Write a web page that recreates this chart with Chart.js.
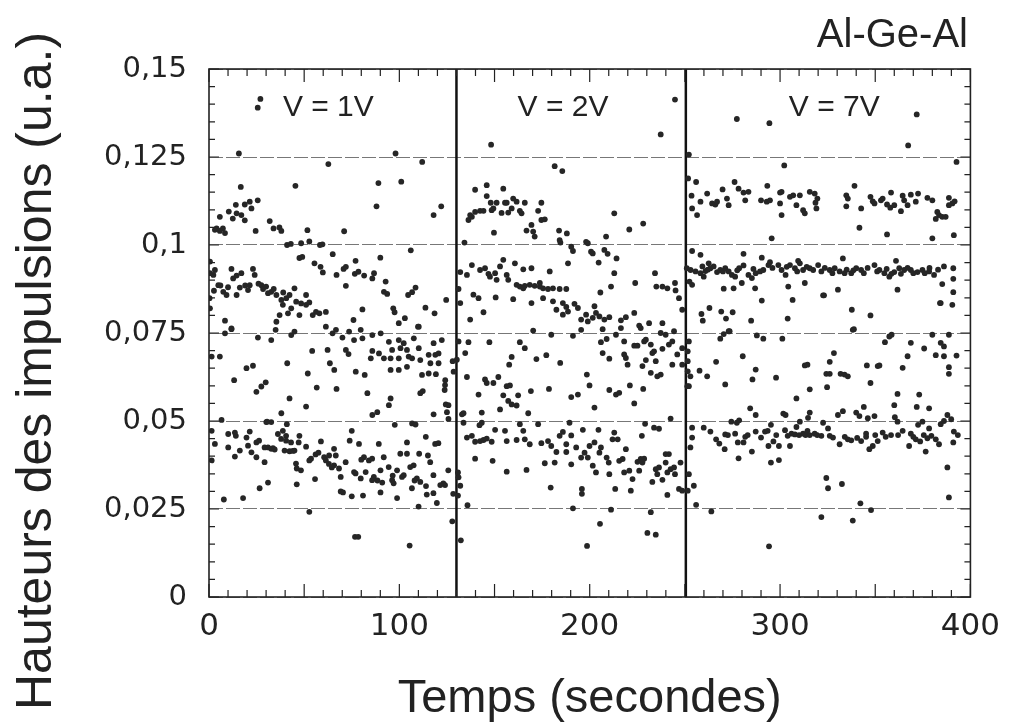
<!DOCTYPE html>
<html>
<head>
<meta charset="utf-8">
<script src="https://cdn.jsdelivr.net/npm/chart.js@4"></script>
<style>
  body { margin: 0; background: #fff; }
</style>
</head>
<body>
<canvas id="pulseChart" width="1011" height="727"></canvas>
<script>
// tick labels
const xTicks = [0, 100, 200, 300, 400];
const yTicks = [0, 0.025, 0.05, 0.075, 0.1, 0.125, 0.15];

// voltage changes (s)
const dividers = [130, 250.5];
const voltages = ["V = 1V", "V = 2V", "V = 7V"];

// [temps (s), hauteur (u.a.)]
const v1Points = [
  [27, 0.1415], [25.6, 0.139], [15.7, 0.126], [98, 0.126], [62.7, 0.123], [112, 0.1236], [16.7, 0.1165], [45.4, 0.1168],
  [89, 0.1176], [101, 0.118], [88, 0.111], [122, 0.111], [118, 0.1085],
  [5.7, 0.108], [10.4, 0.1095], [12.5, 0.1075], [14.5, 0.109], [17, 0.1085], [18.8, 0.107], [14.1, 0.1114], [18.8, 0.1115],
  [21.4, 0.1123], [22.3, 0.1104], [25.6, 0.1127], [4, 0.1047], [7.3, 0.1047], [8.4, 0.1034], [5.7, 0.104], [3.1, 0.1043],
  [24.5, 0.104], [31.9, 0.1068], [33.9, 0.1047], [37, 0.105], [38, 0.104], [51.7, 0.1042], [71, 0.1039],
  [41, 0.1], [43, 0.1003], [48.4, 0.1005], [52.7, 0.101], [58.3, 0.1], [59.6, 0.1002],
  [65, 0.0974], [90, 0.0964], [106, 0.0985], [47.5, 0.0963], [49, 0.0966], [55.4, 0.0948], [58.6, 0.0938], [59.8, 0.0922],
  [67, 0.0915], [70.7, 0.0932], [71.9, 0.0938], [77, 0.0955], [76.6, 0.0918], [78.5, 0.0924], [81.5, 0.0913], [85.8, 0.0905],
  [86.7, 0.092], [71.9, 0.0884], [92.8, 0.0896], [91.9, 0.0867], [93.6, 0.0861], [104.6, 0.0858], [106.7, 0.0866], [108.5, 0.0879],
  [113.7, 0.0822], [118.5, 0.0806], [124.6, 0.0844], [96.8, 0.082], [97.5, 0.0809], [80.6, 0.0817], [75.9, 0.0787], [99.7, 0.0778],
  [102.9, 0.0792], [109.8, 0.0768],
  [0.5, 0.0953], [3.1, 0.0929], [2.3, 0.0915], [0.5, 0.092], [4.9, 0.0886], [7.5, 0.0867], [9.2, 0.0858], [11.8, 0.0932],
  [12.7, 0.0905], [14.5, 0.0913], [17, 0.092], [16.2, 0.0879], [21.4, 0.0886], [20.5, 0.0872], [23.1, 0.0932], [24, 0.0915],
  [27.5, 0.0886], [28.4, 0.0875], [31, 0.0863], [32.7, 0.0867], [35.4, 0.0858], [38, 0.0844], [38.8, 0.083], [40.6, 0.0849],
  [42.3, 0.0858], [44.9, 0.0877], [43.2, 0.082], [45.8, 0.0839], [48.4, 0.0834], [51, 0.083], [52.7, 0.0837], [51, 0.0858],
  [56.2, 0.081], [54.5, 0.0801], [58, 0.0806], [61.4, 0.081], [37.1, 0.0801], [41.5, 0.0806], [47.5, 0.0801], [35.4, 0.0782],
  [8.4, 0.0785], [11.8, 0.0763], [0.5, 0.082], [0.3, 0.0849], [2.6, 0.087], [14.5, 0.0858],
  [6, 0.0885], [10, 0.088], [19, 0.0885], [26, 0.089], [30, 0.0882], [34, 0.0875], [39, 0.0865],
  [8.4, 0.0749], [11.8, 0.0761], [25.7, 0.0737], [32.7, 0.073], [35, 0.0759], [43.2, 0.0744], [44.9, 0.0754], [61.4, 0.0768],
  [64.9, 0.0749], [66.7, 0.0759], [70.1, 0.0737], [73.6, 0.0754], [76.2, 0.073], [80.6, 0.0735], [79.7, 0.0759], [85.8, 0.0744],
  [90.2, 0.0749], [99.7, 0.073], [107.6, 0.0735], [110.2, 0.0768], [122.3, 0.073], [118, 0.0721],
  [1.4, 0.0683], [5.7, 0.0683], [19.7, 0.065], [23.1, 0.0657], [13.2, 0.0616], [24.9, 0.0583], [27.5, 0.0598], [29.8, 0.061],
  [41.1, 0.0664], [51.9, 0.0635], [54.2, 0.0699], [42.3, 0.0564], [51, 0.0541], [38, 0.0522], [56.6, 0.0595], [62.3, 0.0702],
  [63.5, 0.0664], [65.8, 0.0645], [67, 0.0591], [71.9, 0.0702], [73.3, 0.069], [77.1, 0.064], [81.8, 0.0631], [83.2, 0.0579],
  [85, 0.0678], [85.8, 0.0699],
  [89.3, 0.0692], [91.9, 0.0678], [95.4, 0.0678], [96.2, 0.0702], [100.6, 0.0707], [99.7, 0.0678], [104, 0.0702], [104.9, 0.0683],
  [110.2, 0.0707], [106.7, 0.0678], [111, 0.0673], [115.4, 0.0688], [118.9, 0.0688], [120.6, 0.0692], [116.3, 0.0664], [120.6, 0.0664],
  [95.4, 0.0645], [99.7, 0.0645], [104, 0.0654], [111.9, 0.0631], [115.4, 0.0635], [119.2, 0.0633], [124.1, 0.0616], [102.3, 0.0721],
  [94.5, 0.0725], [128, 0.067], [128.5, 0.064],
  [95.4, 0.0564], [94.5, 0.0545], [85.8, 0.0517], [88.4, 0.0525], [97.6, 0.0489], [111, 0.0579], [112.3, 0.0585], [118, 0.0519],
  [125.8, 0.0506], [123.8, 0.0588], [124, 0.0602], [124.4, 0.0547], [125.8, 0.0545], [125, 0.0525], [6.6, 0.0503], [30.1, 0.0497],
  [32.7, 0.0497], [106.7, 0.0493], [108.5, 0.049],
  [1.4, 0.0472], [3.1, 0.0435], [1.4, 0.0388], [10.1, 0.0463], [10.1, 0.0425], [13.6, 0.0467], [14.1, 0.0458], [13.6, 0.0399],
  [16.2, 0.0416], [19.7, 0.0453], [21.4, 0.047], [22.3, 0.0411], [20.5, 0.043], [24.9, 0.0439], [24.9, 0.0397], [26.3, 0.0444],
  [29.2, 0.0425], [31, 0.0425], [33.6, 0.0423], [32.7, 0.0421], [29.2, 0.0383], [36.2, 0.0463], [37.9, 0.0449], [40.5, 0.0458],
  [40.9, 0.0491], [38.8, 0.0472], [39.7, 0.0416], [42.3, 0.0414], [44.9, 0.0416], [40.5, 0.0444], [43.1, 0.0439], [47.5, 0.0458],
  [47.1, 0.0439], [45.7, 0.0379], [46.1, 0.0365], [48.3, 0.036], [51, 0.0427], [52.7, 0.0388], [53.6, 0.0393], [58.8, 0.0442],
  [60.5, 0.0397], [61.4, 0.0388], [63.1, 0.0402], [65.7, 0.0421], [66.6, 0.0402], [65.7, 0.0374], [68.3, 0.0365], [69.2, 0.0341],
  [71.8, 0.0383], [73.9, 0.0444], [75, 0.0472], [78.8, 0.0435], [76.2, 0.0355], [77, 0.0351], [79.7, 0.0337], [81.4, 0.0397],
  [82.3, 0.0355], [84, 0.0388], [85.7, 0.0393], [86.6, 0.0341], [85.7, 0.0332], [89.2, 0.0435], [90.1, 0.036], [91.8, 0.0397],
  [94.4, 0.0369], [96.2, 0.0332], [97, 0.0323], [98.8, 0.036], [100.5, 0.0407], [101.4, 0.0341], [102.3, 0.0346], [104, 0.0439],
  [104, 0.0407], [105.7, 0.0369], [107.5, 0.0374], [106.6, 0.0309], [109.2, 0.0337], [111, 0.0327], [110.4, 0.0407], [113.9, 0.0455],
  [115, 0.0402], [116.2, 0.0383], [117.9, 0.0346], [118.8, 0.0435], [120.5, 0.0437], [123.1, 0.0323], [124, 0.0318], [125.7, 0.036],
  [128.3, 0.0293], [117.9, 0.0295], [114.4, 0.0291], [119.7, 0.0267], [110.1, 0.0257], [90.1, 0.0297], [98.8, 0.0281], [80.9, 0.0288],
  [75, 0.0286], [70.4, 0.0297], [69.2, 0.03], [31, 0.0325], [26.6, 0.0309], [17.9, 0.0281], [7.8, 0.0277], [46.1, 0.032],
  [55.7, 0.0335], [52.7, 0.0242], [76.7, 0.0171], [78.4, 0.0171], [105.4, 0.0146], [127.8, 0.0215],
  [34.5, 0.0419], [30.5, 0.0498], [44, 0.0415], [56, 0.0405], [57.5, 0.041], [63, 0.0378], [64.5, 0.0368], [80, 0.039],
  [88.5, 0.0331], [91, 0.0325], [96.5, 0.0345], [108, 0.0331], [114, 0.0315], [121.5, 0.0318]
];

const v2Points = [
  [244.8, 0.1413], [237.3, 0.1314], [148.2, 0.1285], [181.6, 0.1224], [185.6, 0.121], [139.8, 0.1157], [145.9, 0.117], [154.6, 0.116],
  [145.9, 0.1139], [148, 0.112], [151.1, 0.112], [155.5, 0.112], [156.4, 0.112], [159.8, 0.1132], [161.6, 0.1123], [165.9, 0.112],
  [174.6, 0.112], [148.5, 0.1099], [149.4, 0.1104], [153.7, 0.1091], [157.2, 0.1092], [159, 0.1104], [163.3, 0.1097], [164.2, 0.109],
  [136.3, 0.1071], [138.1, 0.108], [139.8, 0.1094], [142.4, 0.1097], [144.2, 0.1097], [137.2, 0.1085], [172.9, 0.1097], [174.6, 0.1071],
  [176.4, 0.1073], [169.4, 0.1057], [149.7, 0.1035], [166.8, 0.1041], [170.3, 0.1038], [171.1, 0.1024], [183.9, 0.1041], [188, 0.1033],
  [184.2, 0.1014], [184.6, 0.1007], [212.9, 0.109], [228.1, 0.1061], [220.8, 0.1044], [208.6, 0.1024], [198.1, 0.1009], [199, 0.1005],
  [134.2, 0.1007], [190.3, 0.0995], [191.2, 0.0983], [200.7, 0.0981], [201.6, 0.0976], [207.7, 0.0986], [209.4, 0.0975], [188.6, 0.0948],
  [204.7, 0.095], [214.1, 0.0962],
  [132, 0.0923], [135.5, 0.0915], [138.1, 0.0943], [142.4, 0.0929], [145, 0.0934], [146.8, 0.0918], [147.6, 0.091], [150.3, 0.092],
  [151.1, 0.0901], [152.9, 0.0939], [154.6, 0.0958], [156.4, 0.0915], [157.2, 0.0901], [160.7, 0.0948], [165.1, 0.0931], [169.4, 0.0934],
  [179, 0.0925], [161.6, 0.0887], [163.3, 0.0882], [165.9, 0.0884], [168.5, 0.0887], [171.1, 0.0884], [173.8, 0.0882], [175.5, 0.0877],
  [178.1, 0.0875], [180.7, 0.0877], [184.2, 0.0875], [187.7, 0.0875], [173.8, 0.0892], [165.1, 0.0877], [131.1, 0.0875],
  [132, 0.0835], [138.9, 0.0859], [141.6, 0.0849], [144.2, 0.0809], [137.2, 0.0788], [150.6, 0.0851], [159.8, 0.0846], [169.4, 0.0835],
  [175.5, 0.0849], [180.7, 0.084], [182.5, 0.0816], [185.9, 0.0835], [187.7, 0.0824], [188.6, 0.0811], [192, 0.0833], [193.8, 0.0821],
  [185.9, 0.0802], [195.5, 0.0788], [198.1, 0.0802], [199, 0.0783], [202.5, 0.0826], [203.3, 0.0807], [205.1, 0.0797], [207.7, 0.0788],
  [201.6, 0.0793], [210.3, 0.0795], [216.4, 0.0786], [219, 0.0795], [223.4, 0.0807], [226, 0.0771], [231.2, 0.0778], [238.2, 0.0778],
  [223.9, 0.0892], [234.3, 0.092], [235, 0.0882], [238.2, 0.0882], [240.8, 0.0877], [244.8, 0.0892], [245.1, 0.0871], [246.9, 0.0849],
  [248.6, 0.0816], [211.2, 0.0882], [205.6, 0.0865], [212.9, 0.092],
  [131.1, 0.0726], [136.3, 0.0724], [147.3, 0.0724], [163.3, 0.0724], [165.9, 0.0707], [134.6, 0.0693], [130.2, 0.0674], [159, 0.0682],
  [157.7, 0.066], [172, 0.0676], [177.2, 0.0687], [184.5, 0.0665], [170.3, 0.0757], [179.8, 0.0745], [191.2, 0.0742], [195.5, 0.0759],
  [206.8, 0.0761], [205.9, 0.0724], [208.9, 0.0733], [213.8, 0.0745], [216.4, 0.0764], [218.1, 0.0726], [206.8, 0.0693], [210.3, 0.0677],
  [218.1, 0.0689], [219, 0.0679], [219.9, 0.066], [223.4, 0.0714], [225.1, 0.0714], [226.8, 0.0764], [228.6, 0.0726], [229.5, 0.0731],
  [232.1, 0.0717], [233.8, 0.0698], [238.2, 0.0705], [237.3, 0.075], [239.9, 0.0745], [241.6, 0.0717], [243.4, 0.0726], [244.3, 0.0755],
  [246, 0.0689], [248.6, 0.0707], [248.6, 0.066], [243.4, 0.066], [229.5, 0.0673], [234.7, 0.067], [227.7, 0.0656], [232.1, 0.0637],
  [235.5, 0.0627], [237.3, 0.0632], [232.9, 0.0693],
  [135.5, 0.0625], [145, 0.0618], [145.9, 0.0608], [149.4, 0.0608], [152, 0.0625], [156.4, 0.0599], [158.1, 0.0601], [154.6, 0.0573],
  [157.2, 0.0557], [159, 0.0547], [161.6, 0.0544], [162.4, 0.0573], [169.1, 0.0585], [167.7, 0.0522], [141.6, 0.0575], [143.3, 0.0524],
  [152.9, 0.0533], [178.6, 0.0591], [190.3, 0.0568], [193.8, 0.0575], [198.5, 0.0632], [199.9, 0.0601], [202.5, 0.0538], [210.3, 0.0588],
  [213.8, 0.0575], [215.5, 0.058], [221.1, 0.0601], [223.4, 0.055], [228.1, 0.0591],
  [132.9, 0.0519], [133.7, 0.0495], [143.3, 0.0495], [142.1, 0.0488], [163.3, 0.0491], [172.9, 0.0491], [189.4, 0.0495], [229.1, 0.0492],
  [233.8, 0.0481], [236.4, 0.0478], [242.5, 0.0507],
  [135.5, 0.0453], [138.1, 0.0458], [139.8, 0.0441], [142.4, 0.0443], [144.2, 0.0446], [145.9, 0.045], [148.5, 0.0441], [150.3, 0.0475],
  [155.5, 0.0472], [156.4, 0.0443], [161.6, 0.0446], [165.1, 0.0472], [165.9, 0.0448], [168.5, 0.0434], [174.6, 0.0437], [178.1, 0.0443],
  [179.8, 0.0429], [182.5, 0.0412], [184.2, 0.0458], [185.9, 0.0469], [187.7, 0.0434], [187.7, 0.0412], [190.3, 0.0459], [192.9, 0.0425],
  [196.4, 0.0475], [195.5, 0.0396], [197.3, 0.041], [199, 0.0396], [199.9, 0.0429], [202.5, 0.0439], [204.6, 0.0475], [205.1, 0.041],
  [205.9, 0.0425], [208.9, 0.0396], [210, 0.0382], [212, 0.0448], [212.9, 0.0467], [214.7, 0.0448], [219, 0.042], [215.5, 0.0387],
  [217.3, 0.0392], [218.1, 0.0354], [220.8, 0.0359], [226, 0.0359], [226.8, 0.0392], [227.7, 0.0382], [227.4, 0.0458], [228.6, 0.0393],
  [225.1, 0.0384], [222.5, 0.0335], [232.9, 0.0327], [234.7, 0.0363], [236.4, 0.0368], [238.2, 0.0333], [239.9, 0.0382], [235.5, 0.0349],
  [240.8, 0.0354], [241.6, 0.0406], [242.5, 0.0363], [244.3, 0.0368], [244.8, 0.0349], [239.9, 0.0406], [247.7, 0.0382], [246.9, 0.0307],
  [248.6, 0.0302], [240.8, 0.029], [232.1, 0.0241], [230.3, 0.0182], [234.7, 0.0177], [221.6, 0.0302], [213.4, 0.0307], [211.2, 0.0248],
  [205.4, 0.0208], [198.6, 0.0145], [195.9, 0.0307], [195.9, 0.0293], [191.2, 0.0252], [179.5, 0.0311], [166.8, 0.0361], [156.4, 0.0356],
  [149, 0.0387], [139.8, 0.0393], [135.8, 0.0261], [132.3, 0.0161], [176.4, 0.038], [181.6, 0.0382], [190.3, 0.0377], [201.6, 0.0373],
  [203.3, 0.0354], [210.3, 0.0349], [130.8, 0.0354], [131.1, 0.034], [132, 0.0316], [130.8, 0.0288], [133.7, 0.0522]
];

const v7Points = [
  [252.1, 0.1257], [277.3, 0.1358], [294.4, 0.1346], [371.8, 0.1371], [367.3, 0.1283], [302.2, 0.1226], [392.7, 0.1236], [251.7, 0.1189],
  [255.9, 0.1179], [253.5, 0.114], [258.2, 0.1123], [261.7, 0.1146], [253.8, 0.1104], [256.4, 0.1085], [264.3, 0.1118], [266, 0.1115],
  [266.9, 0.1123], [269.8, 0.1158], [272.1, 0.1132], [273, 0.1113], [276.1, 0.1179], [278.2, 0.116], [280.8, 0.1149], [281.7, 0.1127],
  [283.4, 0.1151], [290, 0.1127], [293, 0.1123], [294.7, 0.1127], [293.3, 0.1168], [300, 0.1149], [300.8, 0.1151], [300, 0.1118],
  [300.8, 0.1085], [305.2, 0.1137], [306.9, 0.1141], [308.6, 0.1113], [310.4, 0.1141], [312.1, 0.1099], [313, 0.109], [315.6, 0.1151],
  [318.2, 0.1146], [319.6, 0.1132], [318.6, 0.112], [319.1, 0.1104], [295.6, 0.1019],
  [334.8, 0.1141], [335.6, 0.1132], [339.1, 0.1168], [334.8, 0.111], [342.6, 0.1104], [341.7, 0.1049], [347.5, 0.1137], [348.7, 0.1124],
  [349.6, 0.1118], [353, 0.1127], [353.9, 0.1132], [356.2, 0.1115], [357.9, 0.1106], [358.3, 0.1149], [360, 0.1113], [363.5, 0.1096],
  [364.4, 0.114], [365.2, 0.1127], [367, 0.1113], [368.7, 0.1143], [372.5, 0.1146], [371.3, 0.1123], [377.4, 0.1134], [380, 0.1127],
  [382.6, 0.1094], [383.5, 0.1085], [381.8, 0.1074], [385.2, 0.108], [387, 0.108], [388.7, 0.1134], [390.5, 0.1118], [391.7, 0.1124],
  [388.7, 0.1113], [356.2, 0.103], [380, 0.1019], [391.3, 0.1028],
  [251, 0.0934], [253, 0.0929], [255.6, 0.0925], [258.2, 0.092], [259.9, 0.091], [260.8, 0.0926], [263.4, 0.0934], [265.1, 0.0939],
  [266.9, 0.0923], [268.6, 0.0929], [271.2, 0.0934], [273, 0.0925], [274.7, 0.0915], [276.4, 0.091], [278.5, 0.0934], [280.8, 0.0942],
  [283.4, 0.0915], [285.2, 0.0906], [287.2, 0.092], [289.5, 0.0925], [291.2, 0.0929], [293.9, 0.0943], [299.1, 0.0943], [300.8, 0.0929],
  [302.9, 0.0915], [305.2, 0.0943], [307.8, 0.0934], [310.4, 0.0948], [312.1, 0.0929], [315.6, 0.0934], [317.4, 0.0929], [320, 0.0943],
  [321.7, 0.0925], [326.1, 0.0929], [328.7, 0.0934], [331.3, 0.0925], [333.9, 0.092], [337.4, 0.092], [340, 0.0934], [342.6, 0.0929],
  [349.6, 0.0943], [352.2, 0.0929], [354.8, 0.092], [357.4, 0.091], [360, 0.0923], [362.6, 0.0934], [365.2, 0.0929], [368.7, 0.0929],
  [372.2, 0.0923], [374.8, 0.0929], [378.3, 0.0925], [380.9, 0.0915], [386.1, 0.0939], [253.8, 0.0887], [252.4, 0.0896], [258.2, 0.0972],
  [253.8, 0.0983], [280.8, 0.0975], [290.4, 0.0964], [294.7, 0.0951], [309.5, 0.0955], [333, 0.0962], [360.9, 0.0955], [259.2, 0.0939],
  [262.5, 0.0948], [270.4, 0.0876], [275.6, 0.0877], [279.9, 0.0892], [286.9, 0.0877], [304.3, 0.0882], [313, 0.0892], [322.6, 0.0857],
  [330.4, 0.0873], [361.7, 0.0873], [385.2, 0.0889], [391, 0.0934], [391, 0.0904], [391, 0.0866], [390.5, 0.083], [384.4, 0.0835],
  [262, 0.093], [270, 0.0925], [277.5, 0.0928], [286, 0.0932], [296, 0.0935], [303.5, 0.0938], [309, 0.0925], [314, 0.0938],
  [323.5, 0.0935], [327.5, 0.092], [335, 0.093], [338.5, 0.0928], [344, 0.092], [346, 0.0935], [351, 0.0925], [356, 0.0932],
  [358.5, 0.0918], [363.5, 0.0918], [367, 0.0935], [370, 0.092], [376, 0.092], [378.5, 0.0935], [383, 0.093],
  [290.4, 0.0842], [306.6, 0.0844], [323.1, 0.0857], [337.7, 0.0816], [347.5, 0.08], [384, 0.0835], [258.7, 0.0804], [259.4, 0.0785],
  [262.9, 0.0821], [269.1, 0.0811], [271.6, 0.0791], [275.1, 0.0809], [284.8, 0.0785], [304, 0.0791], [338.8, 0.0761], [273, 0.0755],
  [268.6, 0.0734], [270.4, 0.0747], [273.5, 0.0755], [287.8, 0.0743], [291.2, 0.0734], [301.2, 0.0734], [338.2, 0.0759], [355.1, 0.0724],
  [357.4, 0.074], [358.6, 0.0745], [368.7, 0.0722], [380, 0.0745], [384.4, 0.0722], [386.1, 0.0712], [388.7, 0.0745],
  [252.1, 0.0726], [251.5, 0.0698], [251.5, 0.067], [251.5, 0.0641], [252.9, 0.0627], [251.3, 0.0599], [252.1, 0.0599], [257.7, 0.0643],
  [261.7, 0.0627], [266.4, 0.0668], [271.2, 0.0604], [280.4, 0.0684], [287.2, 0.0646], [285.5, 0.0618], [297.9, 0.0623], [308.6, 0.0564],
  [313, 0.0658], [314.4, 0.066], [315.6, 0.059], [324.3, 0.0634], [326.1, 0.0634], [324.7, 0.0596], [326.1, 0.0668], [328.3, 0.0693],
  [331.8, 0.0634], [333.9, 0.0632], [335.6, 0.0627], [345.6, 0.0658], [347.5, 0.0608], [351.3, 0.0656], [352.2, 0.0658], [361.7, 0.0577],
  [364.4, 0.0651], [367, 0.0684], [375.7, 0.0706], [381.8, 0.0687], [386.1, 0.0684], [388.7, 0.0653], [388.7, 0.0634], [392.7, 0.0686],
  [373.1, 0.0575],
  [284.3, 0.0536], [287.2, 0.0517], [274.4, 0.0498], [277.3, 0.0495], [278.5, 0.0502], [259.9, 0.0481], [263.4, 0.047], [266.4, 0.0448],
  [268.1, 0.0436], [270.9, 0.042], [271.2, 0.0462], [272.6, 0.046], [276.4, 0.0464], [277.8, 0.0439], [280.8, 0.0439], [281.7, 0.0455],
  [278.2, 0.0394], [285.2, 0.0413], [287.2, 0.047], [290, 0.0453], [292.1, 0.047], [293.5, 0.0472], [295.2, 0.0489], [293.9, 0.0429],
  [296.5, 0.0442], [299.4, 0.0429], [295.2, 0.0382], [299.4, 0.0389], [301.7, 0.0521], [302.9, 0.0517], [302.6, 0.0474], [305.2, 0.0429],
  [306, 0.0464], [307.8, 0.0462], [308.6, 0.0483], [310.4, 0.0498], [312.1, 0.0464], [314.4, 0.0472], [314.7, 0.0509], [315.6, 0.0524],
  [313.4, 0.046], [315.6, 0.046], [318.2, 0.0464], [321.7, 0.0458], [322.6, 0.0495], [325.2, 0.0479], [326.1, 0.0458], [327.8, 0.0453],
  [330.4, 0.0517], [333, 0.0528], [331.3, 0.0434], [335.6, 0.0448], [337.4, 0.0445], [340, 0.0524], [341.7, 0.0514], [344, 0.054],
  [342.6, 0.0443], [345.2, 0.0464], [346.1, 0.0508], [345.2, 0.0455], [346.9, 0.042], [349.6, 0.0514], [348.7, 0.0429], [351.3, 0.0443],
  [353.9, 0.0467], [358.3, 0.046], [360, 0.0545], [360.3, 0.0511], [361.7, 0.0498], [364.4, 0.0472], [367.8, 0.0429], [368.7, 0.0464],
  [371.8, 0.054], [372.5, 0.0489], [371.3, 0.0448], [373.6, 0.0442], [374.8, 0.0498], [376.5, 0.0413], [377.4, 0.0451], [378.3, 0.0479],
  [379.5, 0.0458], [381.8, 0.0448], [383.5, 0.0434], [384.4, 0.0491], [386.1, 0.05], [387.9, 0.0517], [389.9, 0.0505], [391.3, 0.047],
  [391, 0.0439], [393.4, 0.046], [378.3, 0.0536], [387.9, 0.0368], [253.8, 0.0481], [253.8, 0.0453], [252.9, 0.0425], [252.1, 0.0349],
  [254.7, 0.0316], [251.5, 0.0302], [255.9, 0.0262], [263.9, 0.0243], [294.2, 0.0144], [324.3, 0.0338], [321.7, 0.0227], [332.5, 0.0321],
  [338.2, 0.0217], [342.2, 0.0266], [347.8, 0.0247], [388.7, 0.0283], [325.2, 0.0309],
  [283, 0.046], [298, 0.046], [304, 0.0458], [310, 0.046], [319.5, 0.046], [334, 0.0455], [340.5, 0.0452], [350, 0.046],
  [355.5, 0.0455], [362, 0.046], [370, 0.0455], [375.5, 0.046]
];

const dotColor = "#262626";
const toXY = (pts) => pts.map(([t, h]) => ({ x: t, y: h }));
const commaLabel = (v) => String(v).replace(".", ",");

const dotSet = (label, pts) => ({
  type: "scatter",
  label: label,
  data: toXY(pts),
  backgroundColor: dotColor,
  borderWidth: 0,
  pointRadius: 2.9,
});

const dividerSet = (t) => ({
  type: "line",
  data: [{ x: t, y: yTicks[0] }, { x: t, y: yTicks[yTicks.length - 1] }],
  borderColor: "#111",
  borderWidth: 2.5,
  pointRadius: 0,
});

// frame, inner tick marks, annotations
const decorations = {
  id: "decorations",
  afterDraw(chart) {
    const { ctx, chartArea: a, scales } = chart;
    const xs = scales.x, ys = scales.y;
    ctx.save();
    ctx.strokeStyle = "#222";
    ctx.lineWidth = 1.2;
    ctx.beginPath();
    for (let i = 0; i <= 40; i++) {
      const px = xs.getPixelForValue(i * 10);
      const len = i % 5 === 0 ? 13 : 7;
      ctx.moveTo(px, a.bottom); ctx.lineTo(px, a.bottom - len);
      ctx.moveTo(px, a.top); ctx.lineTo(px, a.top + len);
    }
    for (let i = 0; i <= 30; i++) {
      const py = ys.getPixelForValue(i * 0.005);
      const len = i % 5 === 0 ? 10 : 6;
      ctx.moveTo(a.left, py); ctx.lineTo(a.left + len, py);
      ctx.moveTo(a.right, py); ctx.lineTo(a.right - len, py);
    }
    ctx.stroke();

    ctx.lineWidth = 1.6;
    ctx.strokeRect(a.left, a.top, a.right - a.left, a.bottom - a.top);

    ctx.fillStyle = "#222";
    ctx.font = "30px 'Liberation Sans', Arial, sans-serif";
    ctx.textAlign = "center";
    ctx.textBaseline = "middle";
    const labelX = [62.7, 186, 328.5];
    voltages.forEach((txt, i) => {
      ctx.fillText(txt, xs.getPixelForValue(labelX[i]), ys.getPixelForValue(0.139));
    });

    ctx.font = "40px 'Liberation Sans', Arial, sans-serif";
    ctx.textAlign = "right";
    ctx.textBaseline = "alphabetic";
    ctx.fillText("Al-Ge-Al", 968, 47);

    ctx.translate(51, 371);
    ctx.rotate(-Math.PI / 2);
    ctx.textAlign = "center";
    ctx.font = "50px 'Liberation Sans', Arial, sans-serif";
    ctx.fillText("Hauteurs des impulsions (u.a.)", 0, 0);
    ctx.restore();
  },
};

const ctx = document.getElementById("pulseChart").getContext("2d");
const pulseChart = new Chart(ctx, {
  data: {
    datasets: [
      dotSet(voltages[0], v1Points),
      dotSet(voltages[1], v2Points),
      dotSet(voltages[2], v7Points),
      dividerSet(dividers[0]),
      dividerSet(dividers[1]),
    ],
  },
  options: {
    responsive: false,
    animation: false,
    layout: { padding: { top: 69, right: 36, left: 0, bottom: 0 } },
    plugins: {
      legend: { display: false },
      tooltip: { enabled: false },
    },
    scales: {
      x: {
        type: "linear",
        min: 0,
        max: 400,
        afterBuildTicks: (s) => { s.ticks = xTicks.map((v) => ({ value: v })); },
        afterFit: (s) => { s.height = 130; },
        grid: { display: false, drawTicks: false },
        border: { display: false },
        ticks: {
          padding: 11,
          color: "#222",
          font: { family: "'DejaVu Sans'", size: 31 },
        },
        title: {
          display: true,
          text: "Temps (secondes)",
          color: "#222",
          font: { family: "'Liberation Sans', Arial", size: 47 },
          padding: { top: 0, bottom: 0 },
        },
      },
      y: {
        min: 0,
        max: 0.15,
        afterBuildTicks: (s) => { s.ticks = yTicks.map((v) => ({ value: v })); },
        afterFit: (s) => { s.width = 209; },
        grid: { color: "#777", lineWidth: 1, drawTicks: false },
        border: { display: false, dash: [14, 3] },
        ticks: {
          padding: 22,
          color: "#222",
          font: { family: "'DejaVu Sans'", size: 29 },
          callback: (v) => commaLabel(v),
        },
      },
    },
  },
  plugins: [decorations],
});
</script>
</body>
</html>
